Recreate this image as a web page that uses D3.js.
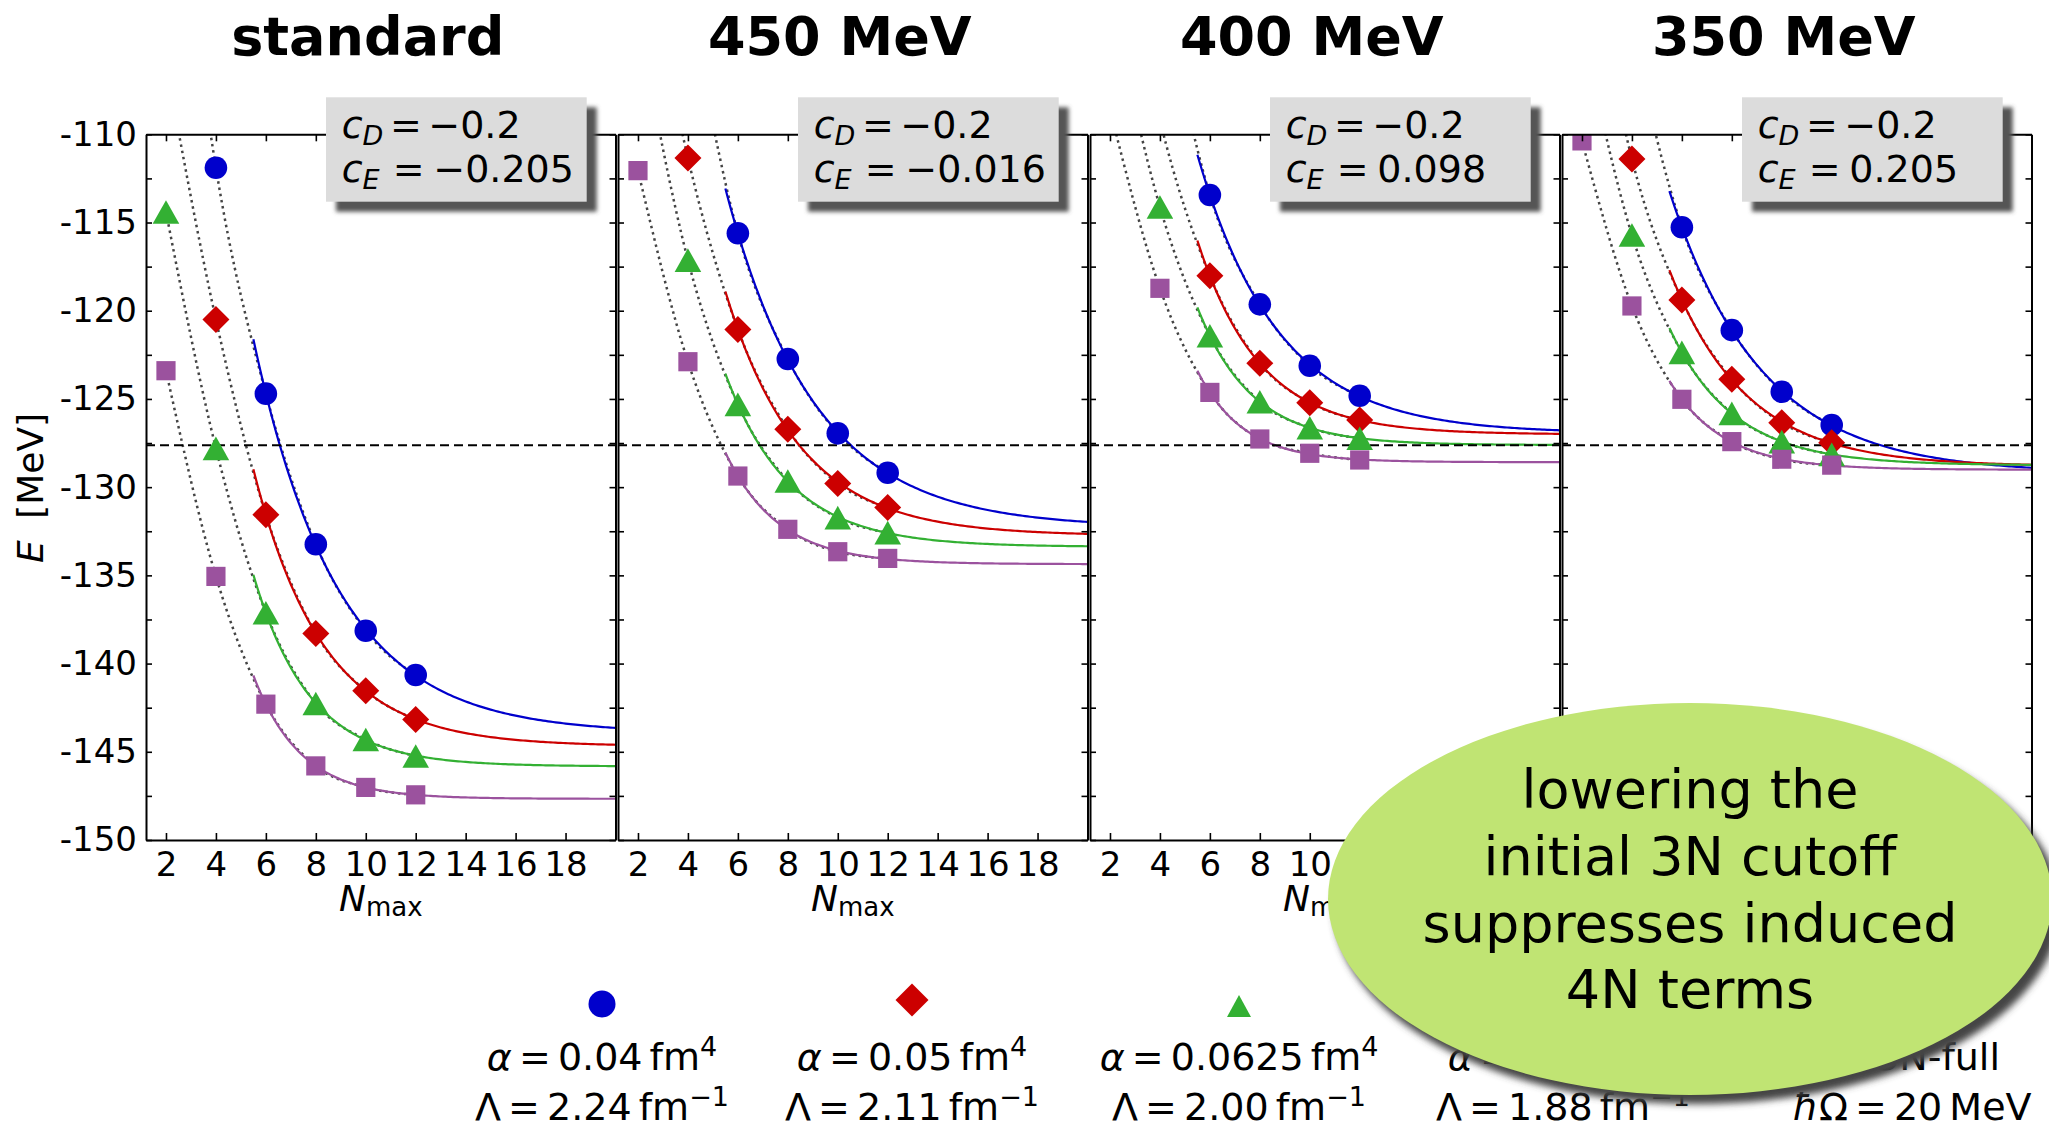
<!DOCTYPE html>
<html>
<head>
<meta charset="utf-8">
<script src="https://cdn.jsdelivr.net/npm/d3@7"></script>
<style>
  html, body { margin: 0; padding: 0; background: #fff; }
  svg { display: block; font-family: "DejaVu Sans", sans-serif; }
</style>
</head>
<body>
<svg id="chart" width="2049" height="1128"></svg>
<script>
// ---------------- data ----------------
const nmax = [2, 4, 6, 8, 10, 12];
const panelTitles = ["standard", "450 MeV", "400 MeV", "350 MeV"];
const cDValues = ["\u22120.2", "\u22120.2", "\u22120.2", "\u22120.2"];
const cEValues = ["\u22120.205", "\u22120.016", "0.098", "0.205"];
const expEnergy = -127.62;              // experimental ground-state energy
const xTicks = [2, 4, 6, 8, 10, 12, 14, 16, 18];
const yTicks = d3.range(-150, -109, 2.5);

// ground-state energies [MeV]; rows: alpha = 0.04, 0.05, 0.0625, 0.08 fm^4; columns: Nmax = 2..12
const energyStandard = [
  [-90.0,  -111.9,  -124.7,  -133.24, -138.14, -140.65],
  [-106.0, -120.5,  -131.56, -138.29, -141.54, -143.17],
  [-114.4, -127.8,  -137.12, -142.26, -144.3,  -145.24],
  [-123.4, -135.06, -142.3,  -145.8,  -147.02, -147.44]
];
const energy450 = [
  [-85.0,   -102.0,  -115.61, -122.74, -126.95, -129.18],
  [-97.0,   -111.34, -121.06, -126.72, -129.79, -131.15],
  [-103.5,  -117.13, -125.31, -129.65, -131.73, -132.58],
  [-112.06, -122.89, -129.37, -132.39, -133.66, -134.04]
];
const energy400 = [
  [-85.0,  -101.0,  -113.44, -119.64, -123.12, -124.82],
  [-95.0,  -109.2,  -118.02, -122.98, -125.21, -126.2],
  [-102.0, -114.12, -121.42, -125.16, -126.63, -127.23],
  [-108.6, -118.73, -124.63, -127.27, -128.08, -128.46]
];
const energy350 = [
  [-88.0,   -104.0,  -115.27, -121.1,  -124.59, -126.48],
  [-97.0,   -111.4,  -119.39, -123.89, -126.35, -127.48],
  [-104.0,  -115.71, -122.36, -125.82, -127.42, -128.14],
  [-110.38, -119.73, -125.02, -127.42, -128.42, -128.75]
];
const panelEnergies = [energyStandard, energy450, energy400, energy350];

const alphaLabels = ["0.04", "0.05", "0.0625", "0.08"];
const lambdaLabels = ["2.24", "2.11", "2.00", "1.88"];
const seriesColors = ["#0000cc", "#cc0000", "#33b033", "#9b529e"];
const seriesShapes = ["circle", "diamond", "triangle", "square"];
const fitStart = 5.5;   // extrapolation curves start here
const fitFrom = 6;      // fit uses Nmax >= 6
const noteLines = ["lowering the", "initial 3N cutoff", "suppresses induced", "4N terms"];

// ---------------- layout ----------------
const svg = d3.select("#chart");
const panelLefts = [146, 618, 1090, 1562];
const panelW = 469.5;
const plotTop = 134.3, plotBottom = 840;

const defs = svg.append("defs");
defs.append("filter").attr("id", "softBlur").attr("x", "-20%").attr("y", "-20%")
  .attr("width", "140%").attr("height", "140%")
  .append("feGaussianBlur").attr("stdDeviation", 2);
defs.append("filter").attr("id", "bigBlur").attr("x", "-20%").attr("y", "-20%")
  .attr("width", "140%").attr("height", "140%")
  .append("feGaussianBlur").attr("stdDeviation", 3.5);

// three-parameter exponential fit E(N) = c + a*exp(-b N)
function expFit(xs, ys) {
  let best = null;
  for (let b = 0.02; b <= 1.5; b += 0.0005) {
    const t = xs.map(x => Math.exp(-b * x));
    const mt = d3.mean(t), my = d3.mean(ys);
    let stt = 0, sty = 0;
    for (let i = 0; i < xs.length; i++) { stt += (t[i] - mt) ** 2; sty += (t[i] - mt) * (ys[i] - my); }
    const a = sty / stt, c = my - a * mt;
    let res = 0;
    for (let i = 0; i < xs.length; i++) res += (ys[i] - c - a * t[i]) ** 2;
    if (!best || res < best.res) best = { a, b, c, res };
  }
  return best;
}

function markerPath(shape, s) {
  const p = d3.path();
  if (shape === "circle") { p.arc(0, 0, s.r, 0, 2 * Math.PI); }
  else if (shape === "diamond") { p.moveTo(0, -s.d); p.lineTo(s.d, 0); p.lineTo(0, s.d); p.lineTo(-s.d, 0); p.closePath(); }
  else if (shape === "triangle") { p.moveTo(0, -s.th); p.lineTo(s.tw, s.th); p.lineTo(-s.tw, s.th); p.closePath(); }
  else { p.rect(-s.q, -s.q, 2 * s.q, 2 * s.q); }
  return p.toString();
}
const plotMarker = { r: 11.3, d: 13.5, tw: 13.3, th: 11.8, q: 9.6 };
const legendMarker = { r: 13.5, d: 16.5, tw: 12, th: 11, q: 11 };

panelEnergies.forEach((energies, pi) => {
  const L = panelLefts[pi];
  const x = d3.scaleLinear().domain([1.2, 20]).range([L, L + panelW]);
  const y = d3.scaleLinear().domain([-150, -110]).range([plotBottom, plotTop]);

  const clipId = "clip" + pi;
  defs.append("clipPath").attr("id", clipId).append("rect")
    .attr("x", L).attr("y", plotTop).attr("width", panelW).attr("height", plotBottom - plotTop);

  const g = svg.append("g");
  const plot = g.append("g").attr("clip-path", `url(#${clipId})`);

  // dotted curves through all computed points
  const dotted = d3.line().x(d => x(d[0])).y(d => y(d[1])).curve(d3.curveMonotoneX);
  energies.forEach(row => {
    plot.append("path").attr("d", dotted(nmax.map((n, i) => [n, row[i]])))
      .attr("fill", "none").attr("stroke", "#444").attr("stroke-width", 2.5)
      .attr("stroke-dasharray", "2.5,3.8");
  });

  // exponential extrapolation curves
  const solid = d3.line().x(d => x(d[0])).y(d => y(d[1]));
  energies.forEach((row, si) => {
    const xs = nmax.filter(n => n >= fitFrom);
    const ys = row.filter((v, i) => nmax[i] >= fitFrom);
    const f = expFit(xs, ys);
    const pts = d3.range(fitStart, 20.001, 0.1).map(n => [n, f.c + f.a * Math.exp(-f.b * n)]);
    plot.append("path").attr("d", solid(pts)).attr("fill", "none")
      .attr("stroke", seriesColors[si]).attr("stroke-width", 2.2);
  });

  // experimental value
  plot.append("line").attr("x1", L).attr("x2", L + panelW)
    .attr("y1", y(expEnergy)).attr("y2", y(expEnergy))
    .attr("stroke", "#000").attr("stroke-width", 2).attr("stroke-dasharray", "9,5");

  // markers
  energies.forEach((row, si) => {
    plot.selectAll(null).data(nmax.map((n, i) => [n, row[i]])).join("path")
      .attr("transform", d => `translate(${x(d[0])},${y(d[1])})`)
      .attr("d", markerPath(seriesShapes[si], plotMarker))
      .attr("fill", seriesColors[si]);
  });

  // axes (inward ticks on all four sides)
  const styleAxis = sel => {
    sel.select(".domain").attr("stroke", "#000").attr("stroke-width", 2);
    sel.selectAll(".tick line").attr("stroke", "#000").attr("stroke-width", 1.6);
    sel.selectAll("text").attr("font-size", 34).attr("fill", "#000")
      .attr("font-family", "DejaVu Sans, sans-serif");
  };
  g.append("g").attr("transform", `translate(0,${plotBottom})`)
    .call(d3.axisBottom(x).tickValues(xTicks).tickSize(-7).tickSizeOuter(0).tickPadding(12).tickFormat(d => String(d)))
    .call(styleAxis);
  g.append("g").attr("transform", `translate(0,${plotTop})`)
    .call(d3.axisTop(x).tickValues(xTicks).tickSize(-7).tickSizeOuter(0).tickFormat(""))
    .call(styleAxis);
  g.append("g").attr("transform", `translate(${L},0)`)
    .call(d3.axisLeft(y).tickValues(yTicks).tickSize(-6).tickSizeOuter(0).tickPadding(9)
      .tickFormat(d => (pi === 0 && d % 5 === 0) ? String(d) : ""))
    .call(styleAxis);
  g.append("g").attr("transform", `translate(${L + panelW},0)`)
    .call(d3.axisRight(y).tickValues(yTicks).tickSize(-6).tickSizeOuter(0).tickFormat(""))
    .call(styleAxis);

  // x label
  const xl = g.append("text").attr("x", L + panelW / 2).attr("y", 911)
    .attr("text-anchor", "middle").attr("font-size", 36);
  xl.append("tspan").attr("font-style", "italic").text("N");
  xl.append("tspan").attr("font-size", 26).attr("dy", 5).text("max");

  // title
  g.append("text").attr("x", L + panelW / 2 - 13).attr("y", 55)
    .attr("text-anchor", "middle").attr("font-size", 54).attr("font-weight", "bold")
    .text(panelTitles[pi]);

  // parameter box
  const bx1 = L + panelW - 28.8, bx0 = bx1 - 260.7, by0 = 97.3, bh = 104.4;
  g.append("rect").attr("x", bx0 + 10).attr("y", by0 + 10).attr("width", bx1 - bx0).attr("height", bh)
    .attr("fill", "#555").attr("filter", "url(#softBlur)");
  g.append("rect").attr("x", bx0).attr("y", by0).attr("width", bx1 - bx0).attr("height", bh)
    .attr("fill", "#dcdcdc");
  const tx = bx0 + 15.7;
  const l1 = g.append("text").attr("x", tx).attr("y", 138.3).attr("font-size", 38);
  l1.append("tspan").attr("font-style", "italic").text("c");
  l1.append("tspan").attr("font-style", "italic").attr("font-size", 27).attr("dy", 7).text("D");
  l1.append("tspan").attr("x", tx + 48.3).attr("dy", -7).text("=");
  l1.append("tspan").attr("x", tx + 86.6).text(cDValues[pi]);
  const l2 = g.append("text").attr("x", tx).attr("y", 181.7).attr("font-size", 38);
  l2.append("tspan").attr("font-style", "italic").text("c");
  l2.append("tspan").attr("font-style", "italic").attr("font-size", 27).attr("dy", 7).text("E");
  l2.append("tspan").attr("x", tx + 51).attr("dy", -7).text("=");
  l2.append("tspan").attr("x", tx + 91.6).text(cEValues[pi]);
});

// y label
const yl = svg.append("text").attr("transform", "translate(43,488) rotate(-90)")
  .attr("text-anchor", "middle").attr("font-size", 36);
yl.append("tspan").attr("font-style", "italic").text("E");
yl.append("tspan").attr("dx", 10).text(" [MeV]");

// legend
const legendX = [602, 912, 1239, 1563];
const legendMarkerY = [1004, 1000, 1006, 1004];
seriesShapes.forEach((shape, si) => {
  const cx = legendX[si];
  svg.append("path").attr("transform", `translate(${cx},${legendMarkerY[si]})`)
    .attr("d", markerPath(shape, legendMarker)).attr("fill", seriesColors[si]);
  const t1 = svg.append("text").attr("x", cx).attr("y", 1070).attr("text-anchor", "middle")
    .attr("font-size", 38).attr("word-spacing", -5);
  t1.append("tspan").attr("font-style", "italic").text("\u03b1");
  t1.append("tspan").text(` = ${alphaLabels[si]} fm`);
  t1.append("tspan").attr("font-size", 27).attr("dy", -14).text("4");
  const t2 = svg.append("text").attr("x", cx).attr("y", 1120).attr("text-anchor", "middle")
    .attr("font-size", 38).attr("word-spacing", -5);
  t2.append("tspan").text(`\u039b = ${lambdaLabels[si]} fm`);
  t2.append("tspan").attr("font-size", 27).attr("dy", -14).text("\u22121");
});
svg.append("text").attr("x", 2000).attr("y", 1070).attr("text-anchor", "end")
  .attr("font-size", 38).text("NN+3N-full");
const t5 = svg.append("text").attr("x", 1912).attr("y", 1120).attr("text-anchor", "middle")
  .attr("font-size", 38).attr("word-spacing", -5);
t5.append("tspan").attr("font-style", "italic").text("\u0127");
t5.append("tspan").text("\u03a9 = 20 MeV");

// highlighted remark
const note = svg.append("g");
note.append("ellipse").attr("cx", 1697).attr("cy", 908).attr("rx", 363).attr("ry", 196)
  .attr("fill", "#444").attr("filter", "url(#bigBlur)");
note.append("ellipse").attr("cx", 1690).attr("cy", 899).attr("rx", 362).attr("ry", 196)
  .attr("fill", "#c0e473");
noteLines.forEach((s, i) => {
  note.append("text").attr("x", 1690).attr("y", 808.3 + i * 66.7)
    .attr("text-anchor", "middle").attr("font-size", 54).text(s);
});
</script>
</body>
</html>
